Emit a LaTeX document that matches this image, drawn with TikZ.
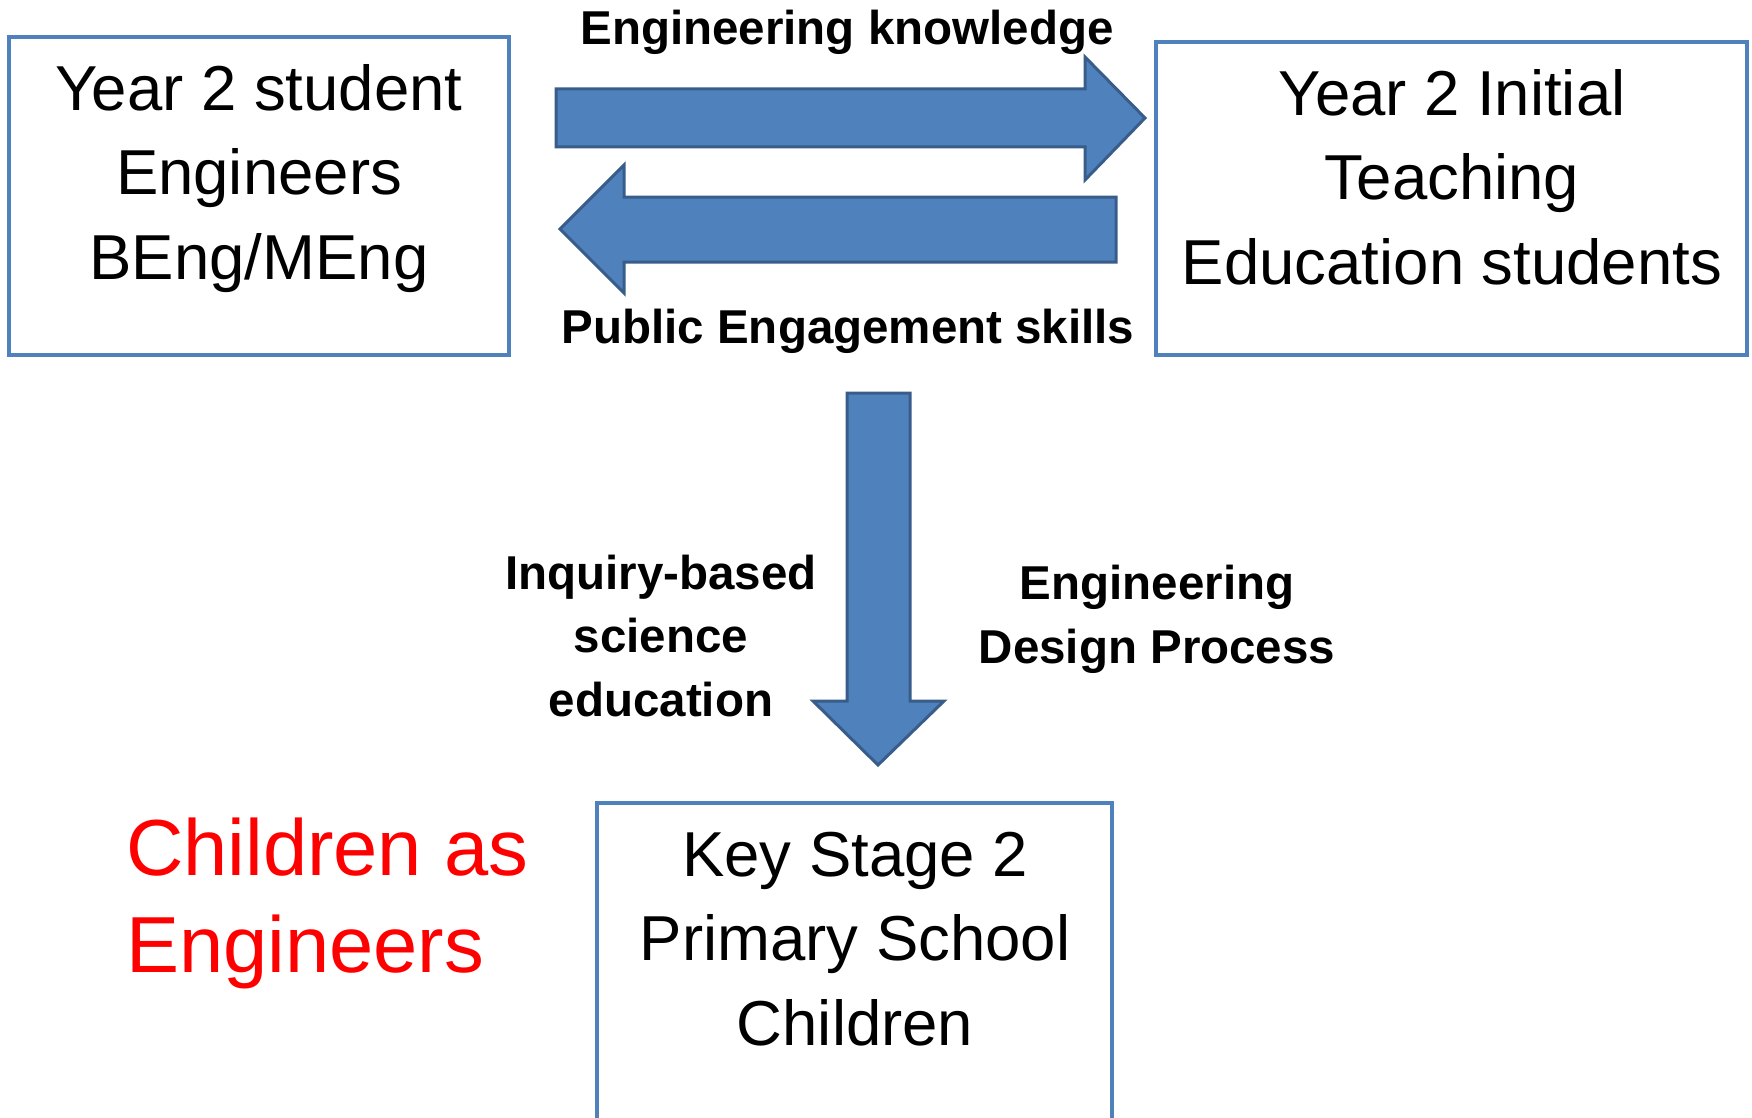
\documentclass[tikz,border=0pt]{standalone}
\usepackage{fontspec}
\setmainfont{Liberation Sans}
\definecolor{boxblue}{HTML}{4F81BD}
\definecolor{arrowline}{HTML}{385D8A}
\begin{document}
\begin{tikzpicture}[x=1pt,y=-1pt,
  groupbox/.style={draw=boxblue,line width=4pt,fill=white,inner sep=0pt},
  boxtext/.style={align=center,anchor=base,inner sep=0pt,
    font=\fontsize{63.5}{84.5}\selectfont},
  flowlabel/.style={align=center,anchor=base,inner sep=0pt,
    font=\bfseries\fontsize{47.5}{63.5}\selectfont},
  blockarrow/.style={fill=boxblue,draw=arrowline,line width=3pt,line join=miter}]
\useasboundingbox (0,0) rectangle (1752,1118);
\clip (0,0) rectangle (1752,1118);

% the three groups
\draw[groupbox] (9,37) rectangle (509,355);
\draw[groupbox] (1156,42) rectangle (1747,355);
\draw[groupbox] (597,803) rectangle (1112,1140);

% multi-line nodes are placed by the baseline of their last line
\node[boxtext] (eng) at (259,279) {Year 2 student\\Engineers\\BEng/MEng};
\node[boxtext] (ite) at (1452,284) {Year 2 Initial\\Teaching\\Education students};
\node[boxtext] (ks2) at (855,1045) {Key Stage 2\\Primary School\\Children};

% exchange between the two student groups
\draw[blockarrow] (556,89) -- (1085,89) -- (1085,57) -- (1145,118)
  -- (1085,180) -- (1085,147) -- (556,147) -- cycle;
\draw[blockarrow] (1116,197) -- (624,197) -- (624,165) -- (560,229)
  -- (624,293) -- (624,262) -- (1116,262) -- cycle;

% delivery to the schools
\draw[blockarrow] (847,393) -- (910,393) -- (910,701) -- (944,701)
  -- (878,765) -- (813,701) -- (847,701) -- cycle;

\node[flowlabel] (know) at (847,45) {Engineering knowledge};
\node[flowlabel] (pub) at (848,343) {Public Engagement skills};
\node[flowlabel] (ibse) at (661,716) {Inquiry-based\\science\\education};
\node[flowlabel] (edp) at (1157,663) {Engineering\\Design Process};

\node[anchor=base west,align=left,inner sep=0pt,text=red,
  font=\fontsize{79.5}{97}\selectfont] (cae) at (126,972) {Children as\\Engineers};
\end{tikzpicture}
\end{document}
